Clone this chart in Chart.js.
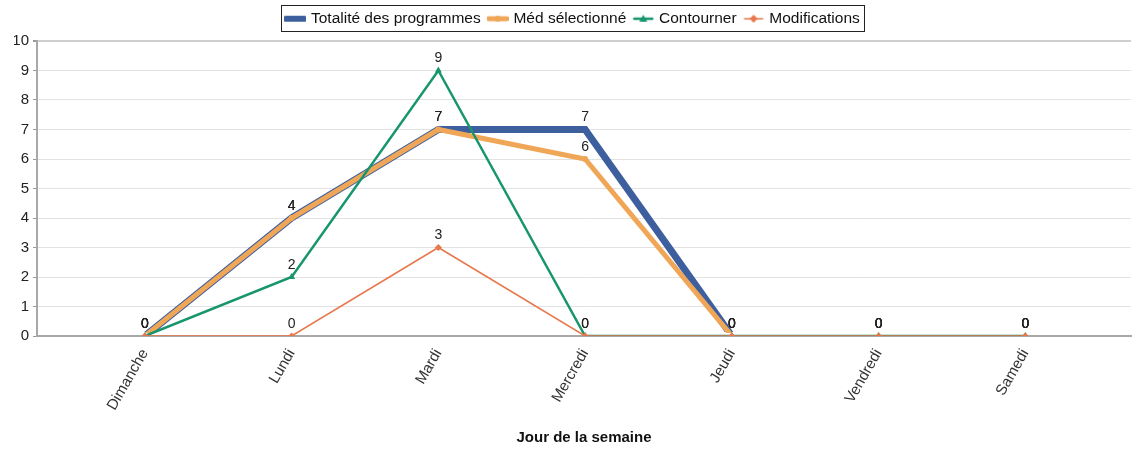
<!DOCTYPE html>
<html>
<head>
<meta charset="utf-8">
<script src="https://cdn.jsdelivr.net/npm/chart.js@4"></script>
<style>
  html, body { margin: 0; padding: 0; background: #fff; }
  #wrap { width: 1135px; height: 450px; }
</style>
</head>
<body>
<div id="wrap"><canvas id="chart" width="1135" height="450"></canvas></div>
<script>
// days of the week and per-series counts
const days = ['Dimanche', 'Lundi', 'Mardi', 'Mercredi', 'Jeudi', 'Vendredi', 'Samedi'];
const totalite = [0, 4, 7, 7, 0, 0, 0];
const medSelect = [0, 4, 7, 6, 0, 0, 0];
const contourner = [0, 2, 9, 0, 0, 0, 0];
const modifications = [0, 0, 3, 0, 0, 0, 0];
const yTicks = [0, 1, 2, 3, 4, 5, 6, 7, 8, 9, 10];

const FONT = "'Liberation Sans', Arial, sans-serif";

function toPoints(vals) {
    return vals.map((v, i) => ({ x: i, y: v }));
}

// small line + marker swatch for the legend
function swatch(color, width, style) {
    let c = document.createElement('canvas');
    c.width = 22; c.height = 10;
    let g = c.getContext('2d');
    g.strokeStyle = color;
    g.fillStyle = color;
    g.lineWidth = width;
    g.lineCap = 'round';
    g.beginPath();
    g.moveTo(2, 5); g.lineTo(20, 5);
    g.stroke();
    g.beginPath();
    if (style === 'triangle') {
        g.moveTo(11, 1); g.lineTo(15, 8); g.lineTo(7, 8);
    } else if (style === 'diamond') {
        g.moveTo(11, 1); g.lineTo(15, 5); g.lineTo(11, 9); g.lineTo(7, 5);
    } else {
        g.arc(11, 5, 3, 0, Math.PI * 2);
    }
    g.fill();
    return c;
}

const series = [
    { label: 'Totalité des programmes', data: totalite, color: '#3d5f9e', width: 7, point: 'circle', radius: 3, order: 4, clipBottom: -4 },
    { label: 'Méd sélectionné', data: medSelect, color: '#f0a657', width: 5, point: 'circle', radius: 3, order: 3, clipBottom: -3 },
    { label: 'Contourner', data: contourner, color: '#17956d', width: 2.5, point: 'triangle', radius: 4, order: 2, clipBottom: 0 },
    { label: 'Modifications', data: modifications, color: '#e8774b', width: 1.5, point: 'rectRot', radius: 3.5, order: 1, clipBottom: 0 }
];

// value labels above each point
const valueLabels = {
    id: 'valueLabels',
    afterDatasetsDraw(chart) {
        let ctx = chart.ctx;
        ctx.save();
        ctx.font = '14px ' + FONT;
        ctx.fillStyle = '#222';
        ctx.textAlign = 'center';
        ctx.textBaseline = 'middle';
        chart.data.datasets.forEach((ds, i) => {
            let meta = chart.getDatasetMeta(i);
            meta.data.forEach((pt, j) => {
                ctx.fillText(String(ds.data[j].y), pt.x, pt.y - 12);
            });
        });
        ctx.restore();
    }
};

// fixed legend height and a frame around the legend items
const legendFrame = {
    id: 'legendFrame',
    beforeInit(chart) {
        let fit = chart.legend.fit;
        chart.legend.fit = function () {
            fit.call(this);
            this.height = 39;
        };
    },
    afterDraw(chart) {
        let boxes = chart.legend.legendHitBoxes;
        if (!boxes || !boxes.length) return;
        let last = boxes[boxes.length - 1];
        let left = boxes[0].left - 6;
        let right = last.left + last.width + 4;
        let ctx = chart.ctx;
        ctx.save();
        ctx.strokeStyle = '#222';
        ctx.lineWidth = 1;
        ctx.strokeRect(Math.round(left) + 0.5, 5.5, Math.round(right - left), 26);
        ctx.restore();
    }
};

let ctx = document.getElementById('chart').getContext('2d');
new Chart(ctx, {
    type: 'line',
    data: {
        datasets: series.map(s => ({
            label: s.label,
            data: toPoints(s.data),
            borderColor: s.color,
            backgroundColor: s.color,
            borderWidth: s.width,
            pointStyle: s.point,
            pointRadius: s.radius,
            pointBorderWidth: 0,
            pointBackgroundColor: s.color,
            tension: 0,
            order: s.order,
            clip: { left: 5, right: 5, top: 10, bottom: s.clipBottom },
            legendSwatch: swatch(s.color, Math.min(s.width, 6), s.point === 'rectRot' ? 'diamond' : s.point)
        }))
    },
    options: {
        responsive: false,
        animation: false,
        layout: { padding: { left: 14, right: 2, top: 2, bottom: 0 } },
        plugins: {
            tooltip: { enabled: false },
            legend: {
                display: true,
                position: 'top',
                labels: {
                    font: { family: FONT, size: 15.5 },
                    color: '#111',
                    usePointStyle: true,
                    pointStyleWidth: 16,
                    boxHeight: 10,
                    padding: 9,
                    generateLabels(chart) {
                        return chart.data.datasets.map((ds, i) => ({
                            text: ds.label,
                            pointStyle: ds.legendSwatch,
                            fillStyle: ds.borderColor,
                            strokeStyle: ds.borderColor,
                            lineWidth: 0,
                            fontColor: '#111',
                            datasetIndex: i,
                            hidden: false
                        }));
                    }
                }
            }
        },
        scales: {
            x: {
                type: 'linear',
                min: -0.735,
                max: 6.72,
                afterFit(scale) { scale.height = 114; },
                grid: { display: false, drawTicks: true, tickLength: 4 },
                border: { display: true, color: '#a8a8a8', width: 2 },
                ticks: {
                    stepSize: 1,
                    includeBounds: false,
                    autoSkip: false,
                    minRotation: 60,
                    maxRotation: 60,
                    padding: 6,
                    color: '#333',
                    font: { family: FONT, size: 15 },
                    callback: v => (Number.isInteger(v) && days[v] !== undefined) ? days[v] : ''
                },
                title: {
                    display: true,
                    text: 'Jour de la semaine',
                    color: '#111',
                    font: { family: FONT, size: 15, weight: 'bold' },
                    padding: { top: 0, bottom: 3 }
                }
            },
            y: {
                min: 0,
                max: 10,
                afterFit(scale) { scale.width = 23; },
                afterBuildTicks(scale) { scale.ticks = yTicks.map(v => ({ value: v })); },
                grid: {
                    color: ctx => ctx.tick && ctx.tick.value === 10 ? '#cfcfcf' : '#e2e2e2',
                    lineWidth: ctx => ctx.tick && ctx.tick.value === 10 ? 2 : 1,
                    tickLength: 4,
                    tickColor: '#999'
                },
                border: { display: true, color: '#a8a8a8', width: 2 },
                ticks: {
                    color: '#222',
                    font: { family: FONT, size: 15 },
                    padding: 4
                }
            }
        }
    },
    plugins: [valueLabels, legendFrame]
});
</script>
</body>
</html>
